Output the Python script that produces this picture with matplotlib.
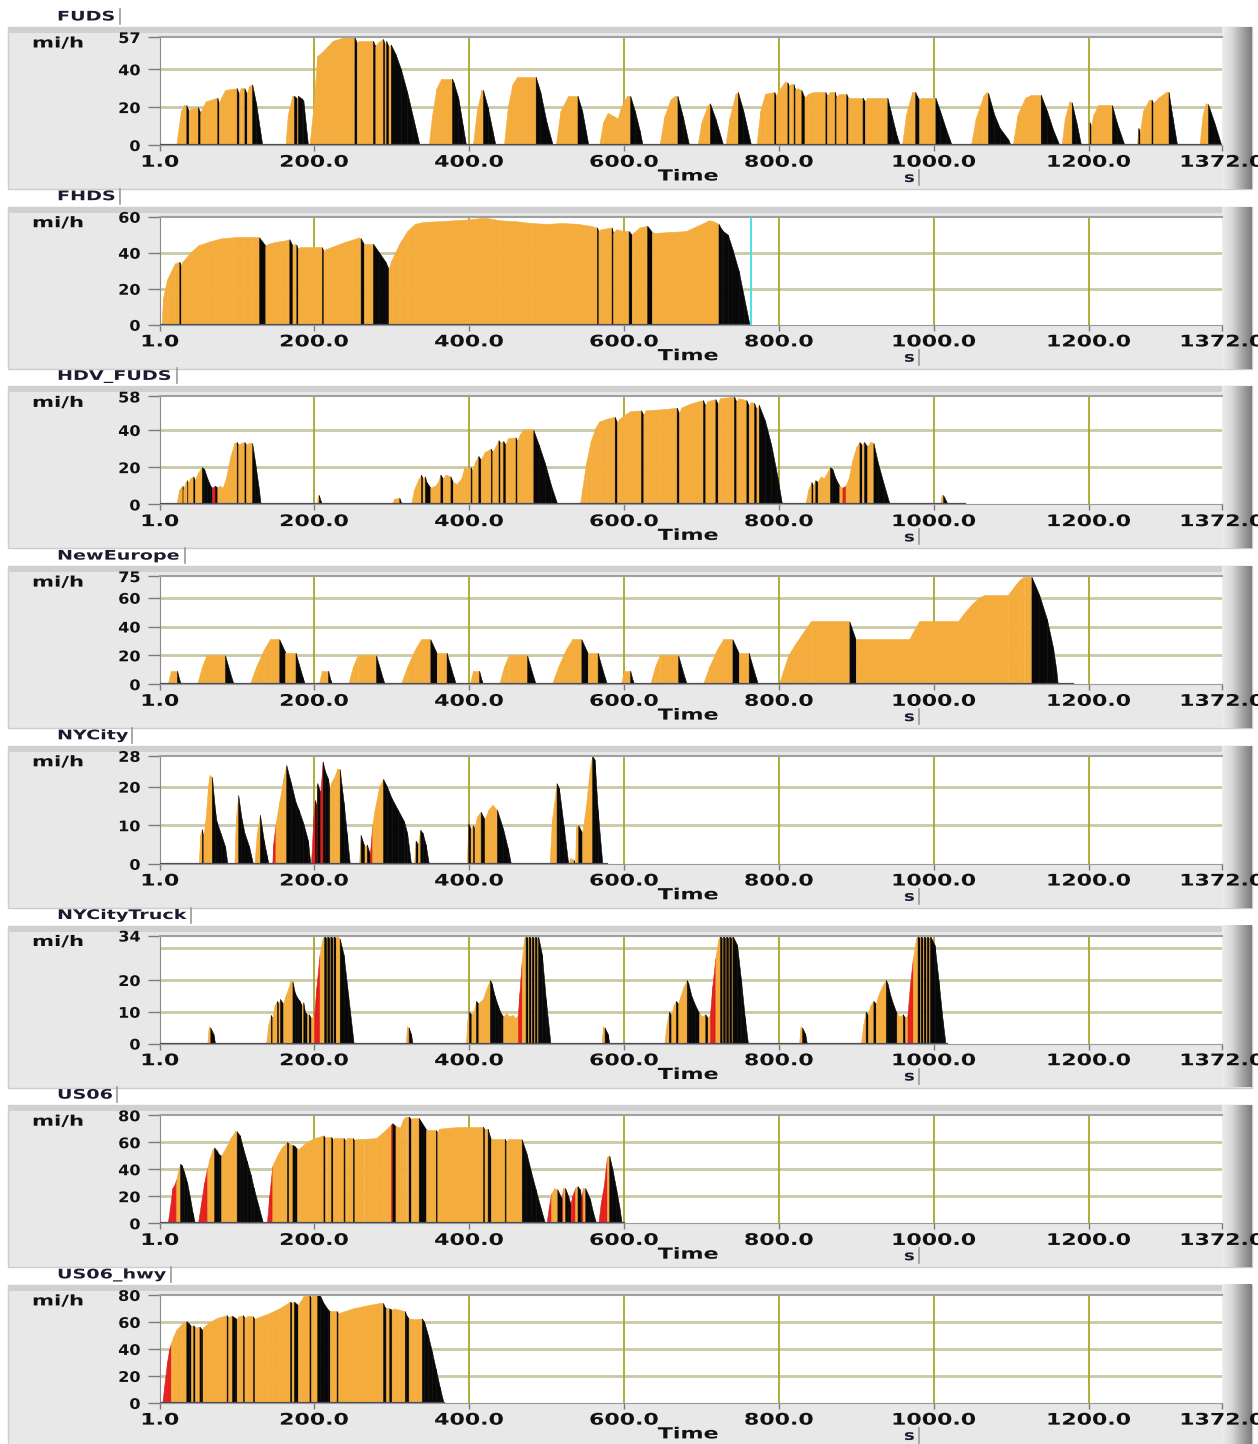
import numpy as np
import matplotlib.pyplot as plt
from matplotlib.patches import Rectangle
from matplotlib.colors import LinearSegmentedColormap
from matplotlib.patheffects import AbstractPathEffect
from matplotlib.transforms import Affine2D

plt.rcParams['font.family'] = 'DejaVu Sans'
plt.rcParams['font.weight'] = 'bold'

# ---------------- speed traces (time s, speed mi/h) ----------------
fuds_t = [1, 22, 28, 32, 35, 38, 40, 50, 53, 55, 60, 75, 77, 80, 85, 100, 103, 105, 110, 113, 116, 120, 125, 133,
          163, 166, 172, 174, 178, 179, 184, 186, 192,
          194, 199, 204, 210, 224, 240, 252, 255, 258, 276, 279, 282, 289, 291, 293, 296, 299, 305, 312, 320, 328, 336,
          348, 352, 358, 364, 378, 380, 386, 392, 396,
          405, 410, 416, 418, 424, 430, 434,
          445, 450, 456, 462, 486, 492, 500, 508,
          512, 518, 528, 540, 546, 554,
          568, 573, 579, 592, 596, 604, 608, 614, 620, 624,
          646, 652, 660, 666, 669, 676, 684,
          695, 700, 708, 711, 718, 728,
          731, 736, 744, 747, 754, 764,
          771, 776, 782, 794, 796, 800, 808, 811, 813, 815, 819, 821, 824, 829, 833, 838, 845, 860, 862, 866,
          872, 874, 878, 887, 889, 893, 908, 911, 914, 930, 940, 946, 952, 956,
          959, 964, 972, 976, 978, 981, 984, 1002, 1008, 1016, 1023,
          1048, 1054, 1064, 1068, 1070, 1078, 1085, 1096, 1099,
          1102, 1108, 1118, 1126, 1138, 1146, 1154, 1162,
          1165, 1169, 1175, 1178, 1184, 1190,
          1199, 1201, 1203, 1206, 1212, 1230, 1236, 1246,
          1262, 1264, 1266, 1270, 1278, 1281, 1283, 1290, 1300, 1303, 1308, 1314,
          1343, 1347, 1351, 1354, 1362, 1371, 1372]
fuds_v = [0, 0, 18, 21, 21, 18, 19, 20, 17, 19, 23, 25, 22, 25, 29, 30, 27, 30, 30, 27, 31, 32, 22, 0,
          0, 16, 26, 26, 24.5, 26, 24.5, 23.5, 0,
          0, 20, 47, 49, 55, 57, 57, 54, 55, 55, 52, 54, 56, 53, 55, 52, 53, 48, 40, 28, 14, 0,
          0, 15, 30, 35, 35, 33, 25, 10, 0,
          0, 18, 29, 29, 20, 8, 0,
          0, 20, 32, 36, 36, 28, 12, 0,
          0, 18, 26, 26, 18, 0,
          0, 12, 17, 14, 20, 26, 26, 18, 8, 0,
          0, 15, 24, 26, 26, 15, 0,
          0, 12, 21, 22, 14, 0,
          0, 14, 27, 28, 18, 0,
          0, 18, 27, 28, 26, 29, 33.5, 33, 31, 32, 32, 29, 30, 29, 25, 27, 28, 28, 26, 28,
          28, 25, 27, 27, 25, 25, 25, 23, 25, 25, 25, 15, 5, 0,
          0, 16, 28, 28, 26, 24, 25, 25, 18, 8, 0,
          0, 14, 26, 28, 27.5, 16, 9, 3, 0,
          0, 16, 25, 26.5, 26.5, 18, 8, 0,
          0, 14, 23, 22.5, 12, 0,
          0, 12, 10, 16, 21, 21, 12, 0,
          0, 9, 7, 18, 24, 24, 22, 25, 28, 28, 15, 0,
          0, 16, 22, 21.5, 12, 0, 0]

fhds_t = [1, 3, 5, 10, 20, 26, 28, 30, 40, 50, 63, 80, 95, 110, 120, 129, 137, 141, 150, 165,
          168, 172, 175, 177, 179, 182, 205, 210, 212, 215, 240, 258, 260, 264, 266, 276, 284, 292, 296, 300,
          310, 320, 330, 340, 360, 380, 400, 420, 440, 460, 480, 500, 520, 540, 556, 565, 567, 570, 584, 586,
          590, 600, 606, 610, 612, 620, 630, 636, 640, 660, 680, 695, 710, 715, 722, 726, 728, 734, 740, 748,
          755, 762]
fhds_v = [0, 0, 15, 25, 34, 35, 33, 35, 40, 44, 46, 48, 48.5, 48.5, 48.5, 48.5, 44, 45, 46, 47,
          47.5, 44, 45, 44.5, 42, 43, 43, 43, 41, 42, 46, 48.5, 48, 45, 45, 45, 40, 35, 31, 36,
          45, 52, 56, 57, 57.5, 58, 58.5, 59.5, 58, 57.5, 56.5, 56, 56.5, 56, 55, 54, 52, 53, 54, 51,
          53, 52, 52, 50, 51, 54, 55, 51.5, 51, 51.5, 52, 55, 58, 57.5, 56, 53, 52, 50, 42, 30,
          15, 0]
fhds_cursor = 764

hdv_t = [1, 22, 26, 30, 31, 34, 36, 37, 40, 44, 46, 50, 55, 58, 62, 66, 68, 72, 75, 78,
         82, 86, 92, 97, 100, 102, 106, 110, 112, 116, 120, 124, 128, 131,
         203, 205, 206, 210,
         300, 303, 310, 313, 325, 329, 334, 338, 340, 343, 345, 350, 356, 360, 363, 366, 370, 376, 379, 384,
         390, 394, 398, 402, 404, 408, 412, 415, 420, 428, 430, 434, 438, 440, 444, 447, 450, 460, 462, 466,
         470, 478, 483, 490, 498, 506, 514,
         543, 546, 551, 557, 563, 568, 578, 588, 591, 594, 602, 608, 622, 625, 628, 645, 660, 668, 671, 674,
         685, 697, 702, 705, 708, 718, 721, 724, 735, 742, 745, 748, 758, 761, 764, 768, 771, 774, 782, 790,
         798, 804,
         834, 838, 842, 844, 847, 850, 854, 858, 862, 866, 869, 873, 878, 882, 886, 890, 895, 900, 904, 907,
         910, 914, 918, 922, 928, 936, 943,
         1008, 1010, 1012, 1018, 1040]
hdv_v = [0, 0, 8, 10, 8, 12, 13, 11, 14, 15, 13, 17, 20, 19, 14, 10, 9, 10, 9, 10,
         9, 14, 26, 33, 33.5, 32, 33, 33.5, 32, 33, 33, 22, 10, 0,
         0, 5, 5, 0,
         0, 3, 3.5, 0, 0, 8, 13, 16, 14, 15, 12, 9, 10, 12, 16, 14, 16, 15, 12, 11,
         14, 20, 19, 20, 18, 23, 26, 24, 28, 30, 28, 31, 34.5, 33, 34, 32, 35.5, 36, 34, 38,
         40, 40.5, 40, 32, 22, 10, 0,
         0, 8, 22, 34, 41, 44.5, 46, 47, 44, 46, 48.5, 50, 50.5, 48, 50.5, 51, 51.5, 52, 49, 52,
         54, 55.5, 56, 53, 55.5, 56.5, 54, 57, 57.5, 58, 55, 57, 56, 53, 55, 54.5, 51, 53.5, 45, 32,
         15, 0,
         0, 8, 12, 10, 13, 12, 15, 14, 17, 20, 19, 14, 10, 9, 10, 14, 24, 31, 33.5, 32,
         33.5, 31, 33.5, 33, 22, 10, 0,
         0, 5, 5, 0, 0]

neweu_t = [1, 11, 15, 23, 26, 28, 49, 55, 61, 85, 93, 96, 117, 125, 135, 143, 155, 163, 176, 185, 188,
           206, 210, 218, 221, 223, 244, 250, 256, 280, 288, 291, 312, 320, 330, 338, 350, 358, 371, 380, 383,
           401, 405, 413, 416, 418, 439, 445, 451, 475, 483, 486, 507, 515, 525, 533, 545, 553, 566, 575, 578,
           596, 600, 608, 611, 613, 634, 640, 646, 670, 678, 681, 702, 710, 720, 728, 740, 748, 761, 770, 773,
           800, 806, 812, 820, 830, 841, 891, 899, 968, 975, 981, 1031, 1040, 1050, 1058, 1066, 1096, 1104,
           1110, 1116, 1126, 1136, 1146, 1154, 1158, 1160, 1180]
neweu_v = [0, 0, 9.3, 9.3, 3, 0, 0, 12, 19.9, 19.9, 5, 0, 0, 12, 24, 31.1, 31.1, 21.7, 21.7, 5, 0,
           0, 9.3, 9.3, 3, 0, 0, 12, 19.9, 19.9, 5, 0, 0, 12, 24, 31.1, 31.1, 21.7, 21.7, 5, 0,
           0, 9.3, 9.3, 3, 0, 0, 12, 19.9, 19.9, 5, 0, 0, 12, 24, 31.1, 31.1, 21.7, 21.7, 5, 0,
           0, 9.3, 9.3, 3, 0, 0, 12, 19.9, 19.9, 5, 0, 0, 12, 24, 31.1, 31.1, 21.7, 21.7, 5, 0,
           0, 10, 20, 27, 35, 43.5, 43.5, 31.1, 31.1, 38, 43.5, 43.5, 50, 56, 60, 62.1, 62.1, 68,
           72, 74.6, 74.6, 62, 45, 25, 10, 0, 0]

nyc_t = [1, 51, 53, 55, 57, 60, 63, 65, 68, 72, 74, 80, 85, 88,
         97, 99, 102, 106, 110, 116, 121,
         123, 126, 130, 135, 139, 141,
         146, 147, 150, 155, 160, 164, 170, 176, 180, 186, 192, 195,
         196, 199, 201, 203, 204, 208, 211, 214, 218, 220, 222, 227, 230, 233, 238, 242, 246,
         258, 260, 265, 268, 272, 275, 278, 284, 289, 294, 300, 308, 316, 320, 325,
         329, 331, 334, 337, 340, 344, 348,
         397, 399, 402, 405, 407, 410, 415, 420, 425, 430, 436, 444, 450, 454,
         504, 507, 510, 513, 516, 522, 528, 531, 535, 537, 538, 541, 546, 551, 556, 559, 562, 566, 572, 578]
nyc_v = [0, 0, 7.5, 9, 7, 12, 20, 23, 22.5, 14, 11, 7.5, 4.5, 0,
         0, 12, 17.8, 12, 8, 4.5, 0,
         0, 8, 12.7, 6, 2, 0,
         0, 5, 10, 16, 22, 25.6, 21, 16, 14, 10.5, 6, 0,
         0, 12, 16.5, 15, 20.9, 18.5, 26.5, 24, 22, 19, 21, 23, 24.7, 24.5, 16, 8, 0,
         0, 7.5, 4.5, 5, 2.5, 10, 14, 20, 22, 20, 17, 14, 11, 8, 0,
         0, 6, 5, 8.8, 8, 5, 0,
         0, 10.5, 9, 10, 9, 12.2, 13.5, 11.5, 14, 15.3, 14, 9, 4, 0,
         0, 11.4, 16, 20.9, 19.6, 10, 0, 1.5, 1, 0, 9.7, 10, 8, 15, 25, 28, 27, 14, 0, 0]

truck_t = [1, 62, 64, 66, 70, 72,
           138, 141, 144, 146, 149, 152, 154, 156, 160, 163, 166, 170, 172, 175, 178, 181, 184, 186, 188, 191,
           193, 196, 200, 203, 207, 211, 213, 216, 217, 220, 221, 224, 225, 228, 229, 233, 238, 244, 251,
           318, 320, 322, 325, 327,
           396, 398, 400, 403, 406, 409, 412, 415, 418, 422, 427, 429, 433, 437, 441, 444, 448, 452, 456, 460,
           463, 465, 468, 471, 473, 476, 477, 480, 481, 484, 485, 488, 489, 494, 499, 505,
           571, 573, 575, 579, 581,
           652, 655, 658, 661, 664, 667, 670, 673, 677, 681, 683, 687, 692, 697, 701, 705, 708, 711, 714, 718,
           722, 724, 727, 728, 731, 732, 735, 736, 739, 740, 746, 751, 756, 760,
           826, 828, 830, 834, 836,
           906, 909, 912, 915, 918, 922, 925, 928, 933, 938, 940, 944, 948, 952, 956, 960, 963, 966, 969, 973,
           977, 979, 982, 983, 986, 987, 990, 991, 994, 995, 1001, 1006, 1011, 1015, 1017]
truck_v = [0, 0, 5.4, 5, 3, 0,
           0, 6, 9, 8, 12, 13.4, 12.5, 14, 12.5, 15, 17, 20, 19.5, 16, 14.5, 13.5, 12, 13, 10, 9,
           9.2, 8, 9, 18, 28, 33, 34, 33, 34, 33, 34, 33, 34, 33, 34, 33, 28, 15, 0,
           0, 5.4, 5, 3, 0,
           0, 8, 10, 9, 10, 13.4, 12.5, 13.4, 14, 17, 20, 19, 15, 12, 9.5, 8.5, 9.5, 8.5, 9, 8,
           9, 16, 26, 33, 34, 33, 34, 33, 34, 33, 34, 33, 34, 28, 14, 0,
           0, 5.4, 5, 3, 0,
           0, 6, 10, 9, 12, 13.4, 12.5, 15, 18, 20, 19, 15, 12, 9.5, 8.5, 9.2, 8, 9, 18, 27,
           33, 34, 33, 34, 33, 34, 33, 34, 33, 34, 31, 20, 8, 0,
           0, 5.4, 5, 3, 0,
           0, 6, 10, 9, 12, 13.4, 12.5, 15, 18, 20, 19, 15, 12, 9.5, 8.5, 9.2, 8, 9, 18, 27,
           33, 34, 33, 34, 33, 34, 33, 34, 33, 34, 31, 20, 8, 0, 0]

us06_t = [1, 11, 14, 17, 20, 22, 25, 27, 29, 32, 36, 40, 43, 46,
          50, 54, 58, 62, 65, 69, 71, 74, 77, 80, 86, 92, 98, 100, 104, 108, 113, 118, 122, 128, 134,
          139, 142, 146, 152, 158, 165, 167, 172, 175, 178, 180, 182, 190, 200, 212, 214, 216, 222, 224, 226,
          238, 240, 242, 250, 252, 254, 265, 280, 290, 299, 301, 305, 311, 315, 318, 322, 325, 327, 335, 345,
          350, 357, 359, 361, 380, 400, 418, 420, 422, 424, 426, 428, 446, 448, 450, 468, 474, 480, 486, 492, 498,
          500, 503, 506, 510, 514, 518, 520, 521, 524, 528, 531, 533, 537, 540, 543, 545, 547, 550, 556, 560, 564,
          567, 570, 574, 578, 581, 585, 590, 594, 597, 600]
us06_v = [0, 0, 12, 26, 29, 32.5, 40, 44, 43, 38, 30, 18, 8, 0,
          0, 15, 30, 41, 48, 55, 56, 54, 51, 50, 56, 63, 68, 68, 65, 56, 46, 36, 26, 13, 0,
          0, 20, 42.5, 50, 56, 60, 59, 58, 57, 55, 55, 56, 60, 63, 65, 63, 64, 64, 62, 63,
          63, 61, 63, 63, 61, 62.5, 62.5, 63, 68, 73, 74, 72, 71, 77, 79, 79, 77, 78, 78, 69,
          69, 69, 67, 70, 71, 71.5, 71.5, 69, 70, 70, 66, 62.5, 62.5, 60, 62, 62, 52, 38, 25, 12, 0,
          0, 12, 22, 26, 25, 20, 18, 26, 26, 20, 14, 20, 26, 27.5, 25, 18, 26, 26, 18, 8, 0,
          0, 15, 28, 49, 50, 40, 25, 12, 0, 0]

hwy_t = [1, 4, 7, 10, 13, 15, 18, 22, 28, 33, 35, 38, 41, 44, 46, 48, 52, 54, 56, 57,
         65, 75, 87, 89, 91, 94, 98, 100, 102, 108, 110, 113, 121, 123, 126, 140, 155, 169, 171, 174,
         179, 182, 186, 194, 196, 199, 204, 208, 212, 218, 220, 229, 231, 234, 250, 270, 285, 289, 291, 293,
         297, 300, 303, 310, 317, 319, 322, 330, 339, 342, 347, 352, 357, 362, 367]
hwy_v = [0, 0, 15, 30, 40, 44, 49, 54, 58, 60, 60.5, 59, 57, 57.5, 56, 56, 56.5, 55, 54, 56,
         60, 63, 65, 63, 64, 64.5, 63, 62, 64, 65, 63, 64, 64, 62, 63, 66, 70, 75, 74, 75,
         72.5, 75, 79, 80, 78, 81, 81, 79, 74, 69, 68, 68, 66, 67, 70, 72.5, 74, 74, 71, 70,
         70, 69, 70, 69, 68, 65, 62.5, 62, 62.5, 60, 50, 38, 25, 12, 0]

# stretches of hard acceleration (drawn red)
fuds_red = []
fhds_red = []
hdv_red = [[68, 72], [882, 886]]
neweu_red = []
nyc_red = [[146, 150], [196, 201], [203, 204], [208, 211], [272, 275]]
truck_red = [[200, 207], [463, 468], [711, 718], [966, 973]]
us06_red = [[11, 22], [50, 62], [139, 146], [299, 301], [500, 506], [520, 521], [531, 537],
            [546, 547], [567, 578]]
hwy_red = [[4, 15]]

names = ['FUDS', 'FHDS', 'HDV_FUDS', 'NewEurope', 'NYCity', 'NYCityTruck', 'US06', 'US06_hwy']
times = [fuds_t, fhds_t, hdv_t, neweu_t, nyc_t, truck_t, us06_t, hwy_t]
speeds = [fuds_v, fhds_v, hdv_v, neweu_v, nyc_v, truck_v, us06_v, hwy_v]
reds = [fuds_red, fhds_red, hdv_red, neweu_red, nyc_red, truck_red, us06_red, hwy_red]
y_max = [57, 60, 58, 75, 28, 34, 80, 80]
y_ticks = [[0, 20, 40, 57], [0, 20, 40, 60], [0, 20, 40, 58], [0, 20, 40, 60, 75],
           [0, 10, 20, 28], [0, 10, 20, 34], [0, 20, 40, 60, 80], [0, 20, 40, 60, 80]]
y_grid = [[20, 40], [20, 40], [20, 40], [20, 40, 60], [10, 20], [10, 20, 30], [20, 40, 60], [20, 40, 60]]
x_ticks = [1, 200, 400, 600, 800, 1000, 1200, 1372]
x_labels = ['1.0', '200.0', '400.0', '600.0', '800.0', '1000.0', '1200.0', '1372.0']

ORANGE = '#f4ad3d'
BLACK = '#080808'
RED = '#e3201b'
DECEL = -0.25   # mi/h per s, below this the trace is drawn black

W, H = 1258, 1444
STEP = 179.7


class Widen(AbstractPathEffect):
    """Stretch glyphs sideways, like the wide bitmap font of the original."""

    def __init__(self, sx, anchor='center'):
        super().__init__()
        self.sx = sx
        self.anchor = anchor

    def draw_path(self, renderer, gc, tpath, affine, rgbFace=None):
        ext = tpath.get_extents()
        if self.anchor == 'left':
            x0 = 0.0
        elif self.anchor == 'right':
            x0 = ext.x1
        else:
            x0 = 0.5 * (ext.x0 + ext.x1)
        st = Affine2D().translate(-x0, 0).scale(self.sx, 1).translate(x0, 0)
        renderer.draw_path(gc, tpath, st + affine, rgbFace)


fig = plt.figure(figsize=(W / 100, H / 100), dpi=100)
bg = fig.add_axes([0, 0, 1, 1])
bg.set_xlim(0, W)
bg.set_ylim(H, 0)
bg.set_autoscale_on(False)
bg.axis('off')
renderer = fig.canvas.get_renderer()

bar_cmap = LinearSegmentedColormap.from_list('bar', ['#ededed', '#d8d8d8', '#a8a8a8', '#7c7c7c'])
grad = np.linspace(0, 1, 64)[None, :]


def label_with_bar(x, y, s, size, sx):
    txt = bg.text(x, y, s, fontsize=size, color='#1c1c30', ha='left', va='center',
                  path_effects=[Widen(sx, 'left')])
    bb = txt.get_window_extent(renderer=renderer)
    xr = bb.x0 + sx * bb.width + 4
    bg.plot([xr, xr], [y - 8, y + 7], color='#9a9a9a', lw=1.2)


def draw_trace(ax, t, v, red):
    t = np.asarray(t, float)
    v = np.asarray(v, float)
    for i in range(len(t) - 1):
        if v[i] == 0 and v[i + 1] == 0:
            continue
        acc = (v[i + 1] - v[i]) / (t[i + 1] - t[i])
        mid = 0.5 * (t[i] + t[i + 1])
        if acc < DECEL:
            c = BLACK
        elif any(a <= mid <= b for a, b in red):
            c = RED
        else:
            c = ORANGE
        ax.fill_between(t[i:i + 2], 0, v[i:i + 2], facecolor=c, edgecolor=c, lw=0.4, zorder=2)
    ax.plot([t[0], t[-1]], [0, 0], color='#4c4c5c', lw=1.6, zorder=3)


for k, name in enumerate(names):
    y0 = k * STEP
    # panel frame
    bg.add_patch(Rectangle((8, y0 + 27), 1244, 162, fc='#e8e8e8', ec='#cdcdcd', lw=1))
    bg.add_patch(Rectangle((8, y0 + 27), 1244, 6, fc='#d0d0d0', ec='none'))
    bg.imshow(grad, extent=(1222, 1252, y0 + 189, y0 + 27), cmap=bar_cmap, aspect='auto', zorder=2)
    label_with_bar(57, y0 + 17, name, 9.5, 1.45)
    bg.text(32, y0 + 43, 'mi/h', fontsize=10.5, color='#111111', ha='left', va='center',
            path_effects=[Widen(1.45, 'left')])
    bg.text(688, y0 + 176, 'Time', fontsize=11, color='#111111', ha='center', va='center',
            path_effects=[Widen(1.45, 'center')])
    label_with_bar(904, y0 + 178, 's', 10, 1.3)

    ax = fig.add_axes([160 / W, 1 - (145 + y0) / H, 1062 / W, 108 / H])
    ax.set_xlim(1, 1372)
    ax.set_ylim(0, y_max[k])
    ax.set_facecolor('white')
    for g in y_grid[k]:
        ax.axhline(g, color='#c9c9a6', lw=2, zorder=1)
    for x in x_ticks[1:-1]:
        ax.axvline(x, color='#a9a62c', lw=1.3, zorder=1)
    if name == 'FHDS':
        ax.axvline(fhds_cursor, color='#3fe0e0', lw=1.3, zorder=4)
    draw_trace(ax, times[k], speeds[k], reds[k])

    ax.set_xticks(x_ticks, x_labels)
    ax.set_yticks(y_ticks[k], [str(y) for y in y_ticks[k]])
    ax.tick_params(axis='y', direction='out', length=9, width=1, color='#7a7a7a', pad=5,
                   labelsize=10.5, labelcolor='#111111')
    ax.tick_params(axis='x', direction='out', length=4, width=1, color='#7a7a7a', pad=3,
                   labelsize=11.5, labelcolor='#111111')
    for lab in ax.get_xticklabels():
        lab.set_path_effects([Widen(1.38, 'center')])
    for lab in ax.get_yticklabels():
        lab.set_path_effects([Widen(1.1, 'right')])
    ax.spines['right'].set_visible(False)
    ax.spines['left'].set_color('#8a8a8a')
    ax.spines['top'].set_color('#a0a0a0')
    ax.spines['top'].set_linewidth(1.5)
    ax.spines['bottom'].set_color('#9a9a9a')

fig.savefig('out.png', dpi=100, facecolor='white')
